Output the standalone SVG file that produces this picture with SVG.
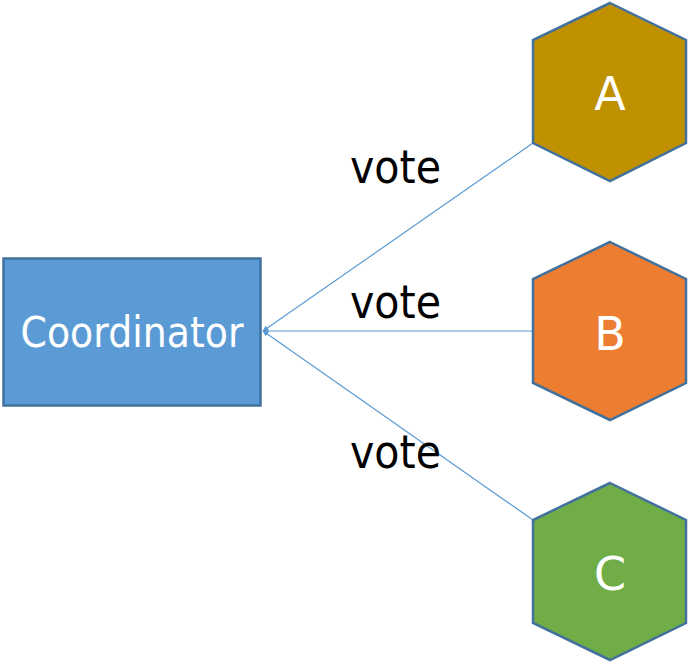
<svg xmlns="http://www.w3.org/2000/svg" width="692" height="663" viewBox="0 0 692 663">
  <style>
    .link { stroke: #5B9BD5; stroke-width: 1.2; fill: none; marker-end: url(#tip); }
    .hex { stroke: #41719C; stroke-width: 2.5; }
    .box { fill: #5B9BD5; stroke: #41719C; stroke-width: 2.5; }
    .lbl { font-family: "DejaVu Sans", "Liberation Sans", sans-serif; fill: #FFFFFF; text-anchor: middle; }
    .vote { font-family: "DejaVu Sans", "Liberation Sans", sans-serif; font-size: 47px; fill: #000000; }
  </style>
  <defs>
    <marker id="tip" viewBox="0 0 10 10" refX="9" refY="5" markerWidth="6" markerHeight="6" markerUnits="userSpaceOnUse" orient="auto">
      <path d="M0,0 L10,5 L0,10 z" fill="#5B9BD5"/>
    </marker>
  </defs>

  <!-- connectors: each voter back to the coordinator -->
  <g id="connectors">
    <line class="link" x1="533" y1="143" x2="263" y2="331"/>
    <line class="link" x1="533" y1="331" x2="263" y2="331"/>
    <line class="link" x1="533" y1="520" x2="263" y2="331"/>
    <text class="vote" x="350" y="183" textLength="91" lengthAdjust="spacingAndGlyphs">vote</text>
    <text class="vote" x="350" y="318" textLength="91" lengthAdjust="spacingAndGlyphs">vote</text>
    <text class="vote" x="350" y="468" textLength="91" lengthAdjust="spacingAndGlyphs">vote</text>
  </g>

  <g id="coordinator">
    <rect class="box" x="3.5" y="258.5" width="257" height="147"/>
    <text class="lbl" x="132" y="347" font-size="42" textLength="223" lengthAdjust="spacingAndGlyphs">Coordinator</text>
  </g>

  <g id="node-a">
    <polygon class="hex" fill="#BF9000" points="610,3 686,40 686,143 610,181 533,143 533,40"/>
    <text class="lbl" x="610" y="110" font-size="46">A</text>
  </g>

  <g id="node-b">
    <polygon class="hex" fill="#ED7D31" points="610,242 686,279 686,383 610,420 533,383 533,279"/>
    <text class="lbl" x="610" y="350" font-size="46">B</text>
  </g>

  <g id="node-c">
    <polygon class="hex" fill="#70AD47" points="610,483 686,520 686,623 610,660 533,623 533,520"/>
    <text class="lbl" x="610" y="590" font-size="46">C</text>
  </g>
</svg>
